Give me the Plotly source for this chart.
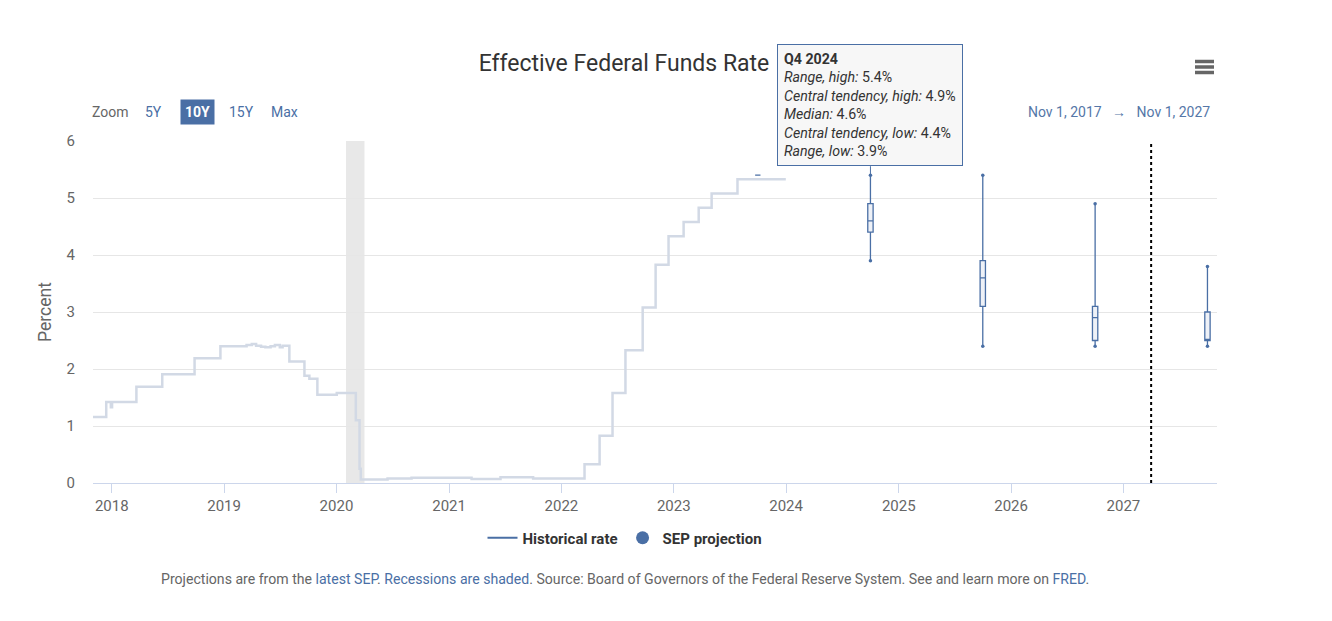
import plotly.graph_objects as go

# ---------------- data ----------------
hist_dates = [
    "2017-11-01", "2017-12-14", "2017-12-29", "2018-01-02", "2018-03-22", "2018-06-14",
    "2018-09-27", "2018-12-20", "2019-03-15", "2019-04-01", "2019-04-15", "2019-05-01",
    "2019-05-15", "2019-06-01", "2019-06-15", "2019-07-01", "2019-07-10", "2019-08-01",
    "2019-09-19", "2019-10-05", "2019-10-31", "2020-01-02", "2020-03-04", "2020-03-10",
    "2020-03-16", "2020-03-20", "2020-06-15", "2020-09-01", "2021-01-15", "2021-03-15",
    "2021-06-17", "2021-10-01", "2022-03-17", "2022-05-05", "2022-06-16", "2022-07-28",
    "2022-09-22", "2022-11-03", "2022-12-15", "2023-02-02", "2023-03-23", "2023-05-04",
    "2023-07-27", "2023-12-31",
]
hist_values = [
    1.16, 1.42, 1.33, 1.42, 1.69, 1.91,
    2.19, 2.40, 2.42, 2.44, 2.41, 2.39,
    2.38, 2.40, 2.42, 2.38, 2.41, 2.13,
    1.88, 1.83, 1.55, 1.58, 1.10, 1.10,
    0.25, 0.06, 0.08, 0.09, 0.09, 0.07,
    0.10, 0.08, 0.33, 0.83, 1.58, 2.33,
    3.08, 3.83, 4.33, 4.58, 4.83, 5.08,
    5.33, 5.33,
]

sep_dates = ["2023-10-01", "2024-10-01", "2025-10-01", "2026-10-01", "2027-10-01"]
sep_labels = ["Q4 2023", "Q4 2024", "Q4 2025", "Q4 2026", "Longer run"]
range_high = [5.4, 5.4, 5.4, 4.9, 3.8]
ct_high = [5.4, 4.9, 3.9, 3.1, 3.0]
median = [5.4, 4.6, 3.6, 2.9, 2.5]
ct_low = [5.4, 4.4, 3.1, 2.5, 2.5]
range_low = [5.4, 3.9, 2.4, 2.4, 2.4]

recession_start = ["2020-02-01"]
recession_end = ["2020-04-01"]
longer_run_divider = "2027-04-01"

x_range = ["2017-11-01", "2027-11-01"]
y_range = [0, 6]
y_ticks = [0, 1, 2, 3, 4, 5, 6]

# ---------------- styles ----------------
FONT = "Roboto"
BLUE = "#4a6fa5"
FADED = "#d2d9e5"
W, H = 1332, 621
OFF = 8  # page body margin
L, R, T, B = 93, 1217, 141, 483  # target plot-area edges in page pixels


def px(xp):
    return (xp - L) / (R - L)


def py(yp):
    return (B - yp) / (B - T)


fig = go.Figure()

# recession shading
for s, e in zip(recession_start, recession_end):
    fig.add_vrect(x0=s, x1=e, fillcolor="#e8e8e8", line_width=0, layer="below")

# historical rate (faded, inactive style)
fig.add_trace(go.Scatter(
    x=hist_dates, y=hist_values, mode="lines", line=dict(color=FADED, width=2.5, shape="hv"),
    showlegend=False, hoverinfo="skip",
))

# SEP boxes
fig.add_trace(go.Box(
    x=sep_dates, q1=ct_low, median=median, q3=ct_high,
    lowerfence=range_low, upperfence=range_high,
    width=1.5e9, whiskerwidth=0, boxpoints=False,
    fillcolor="#eef1f7", line=dict(color=BLUE, width=1.3),
    showlegend=False, hoverinfo="skip",
))
# whisker end dots
fig.add_trace(go.Scatter(
    x=sep_dates[1:] + sep_dates[1:], y=range_high[1:] + range_low[1:], mode="markers",
    marker=dict(color=BLUE, size=3.5), showlegend=False, hoverinfo="skip",
))

# legend entries
fig.add_trace(go.Scatter(x=[None], y=[None], mode="lines", name="Historical rate",
                         line=dict(color=BLUE, width=2)))
fig.add_trace(go.Scatter(x=[None], y=[None], mode="markers", name="SEP projection",
                         marker=dict(color=BLUE, size=13)))

# divider for longer run
fig.add_vline(x=longer_run_divider, line=dict(color="#000000", width=2, dash="dot"))

# tooltip
i = 1
tip = (f"<b>{sep_labels[i]}</b><br>"
       f"<i>Range, high:</i> {range_high[i]}%<br>"
       f"<i>Central tendency, high:</i> {ct_high[i]}%<br>"
       f"<i>Median:</i> {median[i]}%<br>"
       f"<i>Central tendency, low:</i> {ct_low[i]}%<br>"
       f"<i>Range, low:</i> {range_low[i]}%")
fig.add_annotation(
    x=sep_dates[i], y=range_high[i], xref="x", yref="y", text=tip, align="left",
    showarrow=True, ax=0, ay=-9, arrowhead=0, arrowwidth=1, arrowcolor=BLUE,
    xanchor="center", yanchor="bottom",
    bgcolor="rgba(247,247,247,0.94)", bordercolor=BLUE, borderwidth=1, borderpad=6,
    font=dict(family=FONT, size=14.2, color="#333333"),
)

# zoom buttons
fig.add_annotation(x=px(110), y=py(112), xref="paper", yref="paper", text="Zoom",
                   xanchor="center", yanchor="middle",
                   showarrow=False, font=dict(family=FONT, size=14, color="#666666"))
for label, cx in [("5Y", 153), ("15Y", 241), ("Max", 284)]:
    fig.add_annotation(x=px(cx), y=py(112), xref="paper", yref="paper", text=label,
                       xanchor="center", yanchor="middle",
                       showarrow=False, font=dict(family=FONT, size=14, color=BLUE))
fig.add_annotation(x=px(197.5), y=py(112), xref="paper", yref="paper", text="<b>10Y</b>",
                   xanchor="center", yanchor="middle",
                   showarrow=False, bgcolor=BLUE, borderpad=4,
                   font=dict(family=FONT, size=14, color="#ffffff"))

# date range display
fig.add_annotation(x=px(1212), y=py(112), xref="paper", yref="paper", xanchor="right",
                   yanchor="middle",
                   text="Nov 1, 2017   \u2192   Nov 1, 2027", showarrow=False,
                   font=dict(family=FONT, size=14, color="#5577a8"))

# footer
footer = ("Projections are from the <span style='color:#4a6fa5'>latest SEP</span>. "
          "<span style='color:#4a6fa5'>Recessions are shaded</span>. Source: Board of Governors "
          "of the Federal Reserve System. See and learn more on "
          "<span style='color:#4a6fa5'>FRED</span>.")
fig.add_annotation(x=px(625), y=py(579), xref="paper", yref="paper", text=footer,
                   xanchor="center", yanchor="middle",
                   showarrow=False, font=dict(family=FONT, size=14.1, color="#666666"))

# hamburger menu icon
for yy in (61.5, 67, 72.5):
    fig.add_shape(type="line", xref="paper", yref="paper", x0=px(1195), x1=px(1214),
                  y0=py(yy), y1=py(yy), line=dict(color="#666666", width=3.5))

fig.update_layout(
    width=W, height=H,
    margin=dict(l=L - OFF, r=W + OFF - R, t=T - OFF, b=H + OFF - B, autoexpand=False),
    paper_bgcolor="#ffffff", plot_bgcolor="#ffffff",
    font=dict(family=FONT, size=14, color="#666666"),
    title=dict(text="Effective Federal Funds Rate", x=(624 - OFF) / W, xref="container",
               xanchor="center", y=1 - (63 - OFF) / H, yanchor="middle",
               font=dict(family=FONT, size=23, color="#333333")),
    legend=dict(orientation="h", x=px(625), xanchor="center", y=py(538), yanchor="middle",
                font=dict(family=FONT, size=15, color="#333333", weight="bold"),
                itemwidth=30, traceorder="normal"),
    showlegend=True,
    hovermode=False,
)
fig.update_xaxes(
    type="date", range=x_range, showgrid=False, showline=True, linecolor="#ccd6eb",
    linewidth=1, ticks="outside", tickcolor="#ccd6eb", ticklen=9, dtick="M12",
    tick0="2018-01-01", tickformat="%Y", tickfont=dict(size=15, color="#666666"),
    zeroline=False,
)
fig.update_yaxes(
    range=y_range, tickvals=y_ticks, showgrid=True, gridcolor="#e6e6e6", gridwidth=1,
    showline=False, zeroline=False, ticklabelstandoff=17,
    tickfont=dict(size=15, color="#666666"),
    title=dict(text="Percent", standoff=10, font=dict(size=17.5, color="#666666")),
)

fig.write_html("out.html")
